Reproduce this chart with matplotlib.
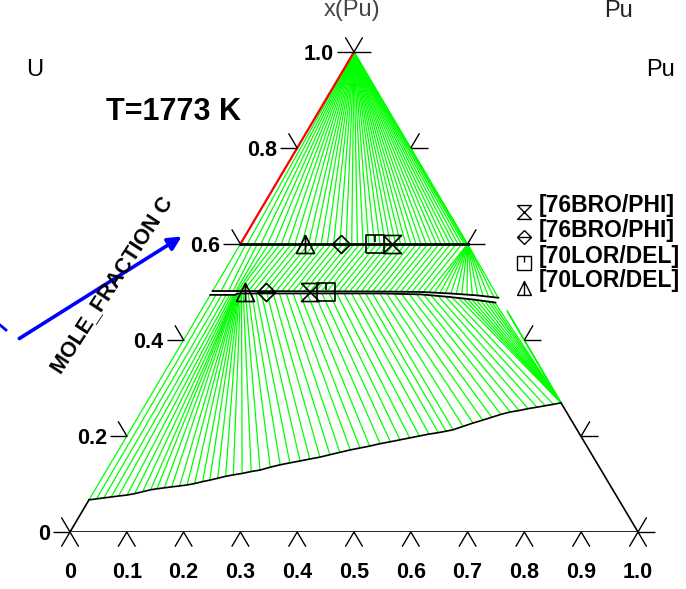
import numpy as np
import matplotlib
matplotlib.use('Agg')
import matplotlib.pyplot as plt
from matplotlib.collections import LineCollection
from matplotlib.path import Path
from matplotlib.patches import FancyArrowPatch

plt.rcParams['font.family'] = ['Liberation Sans', 'DejaVu Sans']

W, H = 686, 589

# compositions: a = bottom axis value, b = x(Pu) (vertical axis)
# tie lines from the Pu corner down to the b = 0.6 boundary
top_fan_a = [0.000, 0.012, 0.024, 0.036, 0.048, 0.060, 0.072, 0.084, 0.096, 0.108,
             0.120, 0.131, 0.142, 0.153, 0.164, 0.175, 0.186, 0.196, 0.206, 0.216,
             0.226, 0.236, 0.246, 0.255, 0.264, 0.273, 0.282, 0.291, 0.300, 0.309,
             0.318, 0.327, 0.336, 0.345, 0.353, 0.361, 0.369, 0.376, 0.383, 0.389,
             0.394, 0.397, 0.399, 0.400]
top_fan_b = 0.6

# tie lines between the b = 0.6 line and the thin phase band near b = 0.5
mid_top_a = [0.00, 0.01, 0.02, 0.03, 0.04, 0.05, 0.06, 0.07, 0.08, 0.09,
             0.10, 0.11, 0.12, 0.13, 0.14, 0.15, 0.16, 0.17, 0.18, 0.19,
             0.20, 0.21, 0.22, 0.23, 0.24, 0.25, 0.26, 0.27, 0.28, 0.29,
             0.30, 0.31, 0.32, 0.33, 0.34, 0.35, 0.36, 0.37, 0.38, 0.39,
             0.40, 0.40, 0.40, 0.40, 0.40, 0.40, 0.40, 0.40, 0.40, 0.40,
             0.40, 0.40, 0.40, 0.40]
mid_bot_a = [0.000, 0.015, 0.028, 0.036, 0.041, 0.044, 0.047, 0.054, 0.063, 0.072,
             0.082, 0.092, 0.102, 0.112, 0.122, 0.132, 0.142, 0.152, 0.162, 0.172,
             0.182, 0.192, 0.202, 0.212, 0.222, 0.232, 0.242, 0.252, 0.262, 0.272,
             0.282, 0.292, 0.302, 0.312, 0.322, 0.332, 0.342, 0.352, 0.362, 0.372,
             0.382, 0.392, 0.402, 0.412, 0.422, 0.432, 0.442, 0.452, 0.462, 0.472,
             0.482, 0.492, 0.502, 0.510]
mid_bot_b = [0.501, 0.501, 0.501, 0.501, 0.501, 0.501, 0.501, 0.501, 0.501, 0.501,
             0.501, 0.501, 0.501, 0.501, 0.501, 0.501, 0.501, 0.501, 0.501, 0.501,
             0.501, 0.501, 0.501, 0.501, 0.501, 0.501, 0.501, 0.501, 0.501, 0.501,
             0.501, 0.501, 0.501, 0.501, 0.501, 0.501, 0.501, 0.500, 0.500, 0.499,
             0.499, 0.498, 0.498, 0.497, 0.497, 0.496, 0.495, 0.494, 0.493, 0.492,
             0.491, 0.490, 0.489, 0.488]

# thin single phase band (upper and lower boundary)
band_up_a = [0.000, 0.045, 0.300, 0.370, 0.420, 0.470, 0.510]
band_up_b = [0.502, 0.502, 0.501, 0.500, 0.497, 0.493, 0.488]
band_lo_a = [0.000, 0.044, 0.046, 0.300, 0.370, 0.420, 0.470, 0.510]
band_lo_b = [0.494, 0.494, 0.497, 0.497, 0.495, 0.490, 0.484, 0.478]

# lower two-phase field: boundary curve (bottom ends) and band side (top ends)
low_bot_a = [0.000, 0.012, 0.024, 0.036, 0.048, 0.062, 0.074, 0.086, 0.098, 0.108,
             0.120, 0.132, 0.145, 0.157, 0.169, 0.181, 0.192, 0.204, 0.216, 0.228,
             0.242, 0.256, 0.270, 0.285, 0.300, 0.315, 0.331, 0.346, 0.362, 0.377,
             0.392, 0.408, 0.423, 0.438, 0.454, 0.470, 0.485, 0.500, 0.515, 0.530,
             0.545, 0.557, 0.568, 0.582, 0.596, 0.610, 0.623, 0.636, 0.650, 0.664,
             0.678, 0.692, 0.705, 0.718, 0.730]
low_bot_b = [0.067, 0.069, 0.071, 0.073, 0.075, 0.077, 0.080, 0.084, 0.088, 0.090,
             0.092, 0.094, 0.096, 0.098, 0.101, 0.105, 0.108, 0.112, 0.116, 0.119,
             0.122, 0.126, 0.129, 0.135, 0.140, 0.144, 0.148, 0.152, 0.156, 0.161,
             0.166, 0.171, 0.175, 0.179, 0.184, 0.188, 0.192, 0.196, 0.200, 0.204,
             0.207, 0.210, 0.213, 0.220, 0.227, 0.233, 0.239, 0.245, 0.250, 0.253,
             0.257, 0.260, 0.263, 0.266, 0.269]
low_top_a = [0.000, 0.010, 0.020, 0.028, 0.034, 0.038, 0.041, 0.043, 0.044, 0.044,
             0.044, 0.044, 0.045, 0.045, 0.046, 0.047, 0.048, 0.049, 0.050, 0.052,
             0.054, 0.057, 0.061, 0.066, 0.072, 0.080, 0.089, 0.099, 0.110, 0.121,
             0.133, 0.145, 0.157, 0.170, 0.183, 0.196, 0.209, 0.222, 0.235, 0.248,
             0.261, 0.273, 0.285, 0.298, 0.311, 0.324, 0.337, 0.350, 0.363, 0.376,
             0.389, 0.402, 0.415, 0.428, 0.441]
low_top_b = [0.494, 0.494, 0.494, 0.494, 0.494, 0.494, 0.494, 0.494, 0.494, 0.494,
             0.494, 0.494, 0.496, 0.496, 0.496, 0.496, 0.496, 0.496, 0.496, 0.496,
             0.496, 0.496, 0.496, 0.496, 0.496, 0.496, 0.496, 0.496, 0.496, 0.496,
             0.496, 0.496, 0.496, 0.496, 0.496, 0.496, 0.496, 0.496, 0.496, 0.496,
             0.496, 0.496, 0.496, 0.496, 0.495, 0.495, 0.495, 0.495, 0.495, 0.494,
             0.493, 0.492, 0.491, 0.489, 0.487]
# fan from the right end of the boundary curve
fan_top_a = [0.450, 0.458, 0.466, 0.474, 0.482, 0.490, 0.497, 0.503, 0.509,
             0.5375, 0.541, 0.545, 0.550]
fan_top_b = [0.486, 0.485, 0.484, 0.483, 0.482, 0.481, 0.480, 0.479, 0.478,
             0.4625, 0.459, 0.455, 0.450]

# experimental points
exp_labels = ['[76BRO/PHI]', '[76BRO/PHI]', '[70LOR/DEL]', '[70LOR/DEL]']
exp_a_upper = [0.2669, 0.1771, 0.2370, 0.1146]
exp_a_lower = [0.1730, 0.0956, 0.2012, 0.0586]
exp_b_upper = 0.6
exp_b_lower = 0.499

bottom_ticks = [0, 0.1, 0.2, 0.3, 0.4, 0.5, 0.6, 0.7, 0.8, 0.9, 1.0]
bottom_labels = ['0', '0.1', '0.2', '0.3', '0.4', '0.5', '0.6', '0.7', '0.8', '0.9', '1.0']
side_ticks = [0, 0.2, 0.4, 0.6, 0.8, 1.0]
side_labels = ['0', '0.2', '0.4', '0.6', '0.8', '1.0']


def tern(a, b):
    a = np.asarray(a, dtype=float)
    b = np.asarray(b, dtype=float)
    return a + b / 2, b


def segs(a1, b1, a2, b2):
    x1, y1 = tern(a1, b1)
    x2, y2 = tern(a2, b2)
    x1, y1, x2, y2 = np.broadcast_arrays(x1, y1, x2, y2)
    return [[(p, q), (r, s)] for p, q, r, s in zip(x1, y1, x2, y2)]


hourglass = Path([(-1, 1), (1, 1), (-1, -1), (1, -1), (-1, 1)], [1, 2, 2, 2, 2])
diamond = Path([(0, 1), (1, 0), (0, -1), (-1, 0), (0, 1), (-1, 0), (1, 0)],
               [1, 2, 2, 2, 2, 1, 2])
square = Path([(-1, -1), (1, -1), (1, 1), (-1, 1), (-1, -1), (0, 1), (0, 0.2)],
              [1, 2, 2, 2, 2, 1, 2])
triangle = Path([(0, 1), (-1, -1), (1, -1), (0, 1), (0, -1)], [1, 2, 2, 2, 2])
exp_markers = [hourglass, diamond, square, triangle]

fig = plt.figure(figsize=(W / 100, H / 100), dpi=100)
ax = fig.add_axes([70 / W, 57 / H, 568 / W, 480 / H])
ax.set_xlim(0, 1)
ax.set_ylim(0, 1)
ax.axis('off')

green = '#00ff00'
ax.add_collection(LineCollection(segs(0, 1, top_fan_a, top_fan_b), colors=green, lw=0.9))
ax.add_collection(LineCollection(segs(mid_top_a, 0.6, mid_bot_a, mid_bot_b), colors=green, lw=0.9))
ax.add_collection(LineCollection(segs(low_top_a, low_top_b, low_bot_a, low_bot_b), colors=green, lw=0.9))
ax.add_collection(LineCollection(segs(fan_top_a, fan_top_b, low_bot_a[-1], low_bot_b[-1]),
                                 colors=green, lw=0.9))

# red edge tie line
ax.plot(*tern([0, 0], [0.6, 1.0]), color='red', lw=1.6)

# boundaries
ax.plot(*tern([0, 0.4], [0.6, 0.6]), color='black', lw=2.0)
ax.plot(*tern(band_up_a, band_up_b), color='black', lw=1.3)
ax.plot(*tern(band_lo_a, band_lo_b), color='black', lw=1.3)
ax.plot(*tern(low_bot_a, low_bot_b), color='black', lw=1.2)
ax.plot(*tern([0, 1], [0, 0]), color='black', lw=1.2)
ax.plot(*tern([0, 0], [0, low_bot_b[0]]), color='black', lw=1.2)
ax.plot(*tern([1, low_bot_a[-1]], [0, low_bot_b[-1]]), color='black', lw=1.2)

# ticks
th = 17 / 568
sx, sy = 0.01524, 0.0305
tick_segs = []
for t in bottom_ticks:
    x, y = tern(t, 0)
    tick_segs += [[(x, y), (x - sx, y - sy)], [(x, y), (x + sx, y - sy)]]
for t in side_ticks:
    x, y = tern(0, t)
    tick_segs += [[(x, y), (x - th, y)], [(x, y), (x - sx, y + sy)]]
    x, y = tern(1 - t, t)
    tick_segs += [[(x, y), (x + th, y)], [(x, y), (x + sx, y + sy)]]
ax.add_collection(LineCollection(tick_segs, colors='black', lw=1.0, clip_on=False))

lab = dict(fontsize=15.5, fontweight='bold', clip_on=False)
for t, s in zip(bottom_ticks, bottom_labels):
    x, y = tern(t, 0)
    ax.text(x, y - 40 / 480, s, ha='center', va='center', **lab)
for t, s in zip(side_ticks, side_labels):
    x, y = tern(0, t)
    ax.text(x - 20 / 568, y - 2 / 480, s, ha='right', va='center', **lab)

# experimental markers
for m, au, al in zip(exp_markers, exp_a_upper, exp_a_lower):
    ax.plot(*tern([au, al], [exp_b_upper, exp_b_lower]), ls='none', marker=m, ms=13,
            mfc='none', mec='black', mew=1.2, clip_on=False)

# legend
leg_y = [205, 230, 256, 281]
for m, s, y in zip(exp_markers, exp_labels, leg_y):
    fig.lines.append(plt.Line2D([524 / W], [1 - (y + 7) / H], transform=fig.transFigure,
                                ls='none', marker=m, ms=10, mfc='none', mec='black', mew=1.0))
    fig.text(539 / W, 1 - y / H, s, fontsize=16.5, fontweight='bold', ha='left', va='center')

# labels around the diagram
fig.text(352 / W, 1 - 10 / H, 'x(Pu)', fontsize=17, color='#444444', ha='center', va='center')
fig.text(618 / W, 1 - 11 / H, 'Pu', fontsize=17, color='#222222', ha='center', va='center')
fig.text(35 / W, 1 - 70 / H, 'U', fontsize=17, ha='center', va='center')
fig.text(660 / W, 1 - 70 / H, 'Pu', fontsize=17, ha='center', va='center')
fig.text(174 / W, 1 - 112 / H, 'T=1773 K', fontsize=22, fontweight='bold', ha='center', va='center')
fig.text(112 / W, 1 - 285 / H, 'MOLE_FRACTION C', fontsize=15.5, fontweight='bold',
         rotation=57, ha='center', va='center', rotation_mode='anchor')

arrow = FancyArrowPatch((17 / W, 1 - 340 / H), (184 / W, 1 - 235 / H), transform=fig.transFigure,
                        arrowstyle='-|>,head_length=8,head_width=4', color='#0000ff', lw=2.6)
fig.patches.append(arrow)
fig.lines.append(plt.Line2D([0 / W, 6 / W], [1 - 325 / H, 1 - 330 / H], transform=fig.transFigure,
                            color='#0000ff', lw=2.0))

fig.savefig('out.png', dpi=100)
